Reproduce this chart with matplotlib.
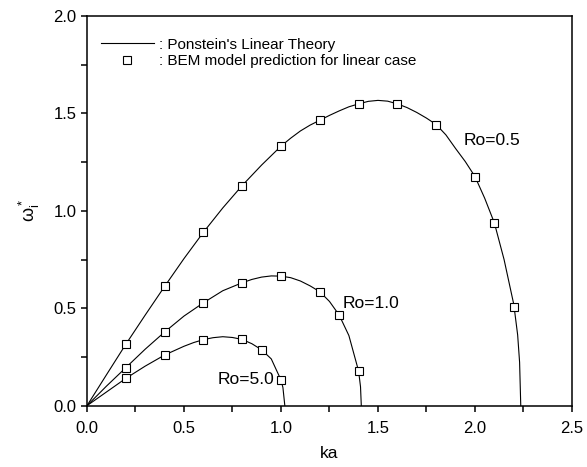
import matplotlib
matplotlib.use("Agg")
import matplotlib.pyplot as plt
from matplotlib.lines import Line2D

plt.rcParams['font.family'] = ['Liberation Sans', 'DejaVu Sans']
plt.rcParams['mathtext.fontset'] = 'custom'
plt.rcParams['mathtext.rm'] = 'Liberation Sans'
plt.rcParams['mathtext.it'] = 'Liberation Sans:italic'

# theory curves
ka_05 = [0.0, 0.1, 0.2, 0.3, 0.4, 0.5, 0.6, 0.7, 0.8, 0.9, 1.0, 1.05, 1.1, 1.15, 1.2, 1.25,
         1.3, 1.35, 1.4, 1.45, 1.5, 1.55, 1.6, 1.65, 1.7, 1.75, 1.8, 1.85, 1.9, 1.95, 2.0,
         2.05, 2.1, 2.15, 2.2, 2.22, 2.23, 2.236]
w_05 = [0.0, 0.158, 0.315, 0.465, 0.612, 0.755, 0.89, 1.015, 1.13, 1.235, 1.332, 1.373, 1.41,
        1.44, 1.465, 1.49, 1.513, 1.534, 1.549, 1.562, 1.567, 1.563, 1.549, 1.53, 1.505, 1.476,
        1.443, 1.39, 1.32, 1.253, 1.176, 1.065, 0.938, 0.75, 0.52, 0.363, 0.223, 0.0]

ka_10 = [0.0, 0.1, 0.2, 0.3, 0.4, 0.5, 0.6, 0.7, 0.8, 0.85, 0.9, 0.95, 1.0, 1.05, 1.1, 1.15,
         1.2, 1.25, 1.3, 1.35, 1.4, 1.41, 1.414]
w_10 = [0.0, 0.1, 0.195, 0.29, 0.378, 0.46, 0.528, 0.59, 0.631, 0.648, 0.66, 0.666, 0.665,
        0.657, 0.64, 0.615, 0.585, 0.535, 0.465, 0.36, 0.178, 0.097, 0.0]

ka_50 = [0.0, 0.1, 0.2, 0.3, 0.4, 0.5, 0.55, 0.6, 0.65, 0.7, 0.75, 0.8, 0.85, 0.9, 0.95, 1.0,
         1.01, 1.0198]
w_50 = [0.0, 0.07, 0.14, 0.203, 0.26, 0.305, 0.324, 0.339, 0.349, 0.354, 0.35, 0.34, 0.318,
        0.287, 0.24, 0.132, 0.093, 0.0]

# BEM points
bem_ka_05 = [0.2, 0.4, 0.6, 0.8, 1.0, 1.2, 1.4, 1.6, 1.8, 2.0, 2.1, 2.2]
bem_w_05 = [0.315, 0.612, 0.89, 1.13, 1.332, 1.465, 1.549, 1.549, 1.443, 1.176, 0.938, 0.505]
bem_ka_10 = [0.2, 0.4, 0.6, 0.8, 1.0, 1.2, 1.3, 1.4]
bem_w_10 = [0.195, 0.378, 0.528, 0.631, 0.665, 0.585, 0.465, 0.178]
bem_ka_50 = [0.2, 0.4, 0.6, 0.8, 0.9, 1.0]
bem_w_50 = [0.14, 0.26, 0.339, 0.34, 0.287, 0.132]


def main():
    fig = plt.figure(figsize=(5.87, 4.67), dpi=100)
    ax = fig.add_axes([0.1482, 0.1313, 0.8262, 0.8344])

    for ka, w in [(ka_05, w_05), (ka_10, w_10), (ka_50, w_50)]:
        ax.plot(ka, w, color='black', lw=0.8)
    for ka, w in [(bem_ka_05, bem_w_05), (bem_ka_10, bem_w_10), (bem_ka_50, bem_w_50)]:
        ax.plot(ka, w, ls='none', marker='s', ms=5.5, mfc='white', mec='black', mew=0.8)

    ax.text(1.943, 1.363, 'Ro=0.5', fontsize=12.5, va='center')
    ax.text(1.318, 0.527, 'Ro=1.0', fontsize=12.5, va='center')
    ax.text(0.675, 0.132, 'Ro=5.0', fontsize=12.5, va='center')

    ax.set_xlim(0, 2.5)
    ax.set_ylim(0, 2.0)
    ax.set_xticks([0, 0.5, 1.0, 1.5, 2.0, 2.5])
    ax.set_yticks([0, 0.5, 1.0, 1.5, 2.0])
    ax.set_xticks([0.25, 0.75, 1.25, 1.75, 2.25], minor=True)
    ax.set_yticks([0.25, 0.75, 1.25, 1.75], minor=True)
    ax.tick_params(which='both', direction='out', top=False, right=False, labelsize=12,
                   width=1.1, length=4)
    ax.tick_params(axis='x', which='major', pad=7)
    for s in ax.spines.values():
        s.set_linewidth(1.1)

    ax.set_xlabel('ka', fontsize=12.5, labelpad=7)
    ax.set_ylabel(r'$\mathrm{\omega}_\mathrm{i}^*$', fontsize=13, labelpad=8)

    handles = [Line2D([], [], color='black', lw=0.8),
               Line2D([], [], ls='none', marker='s', ms=5.5, mfc='white', mec='black', mew=0.8)]
    labels = [": Ponstein's Linear Theory", ': BEM model prediction for linear case']
    ax.legend(handles, labels, loc='upper left', frameon=False, fontsize=11,
              handlelength=3.5, handletextpad=0.3, labelspacing=0.15,
              borderaxespad=0.5, bbox_to_anchor=(0.0, 0.98))

    fig.savefig('out.png', dpi=100)


if __name__ == "__main__":
    main()
